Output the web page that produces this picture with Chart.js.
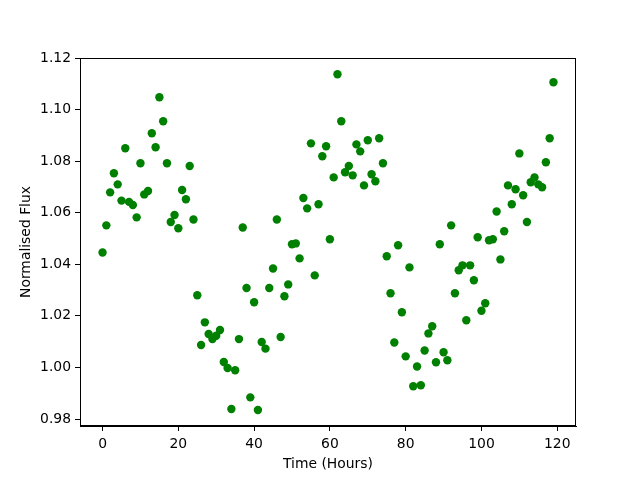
<!DOCTYPE html>
<html>
<head>
<meta charset="utf-8">
<script src="https://cdn.jsdelivr.net/npm/chart.js@4"></script>
<style>
  html, body { margin: 0; padding: 0; background: #fff; }
  #wrap { width: 640px; height: 480px; }
</style>
</head>
<body>
<div id="wrap"><canvas id="fluxChart" width="640" height="480"></canvas></div>
<script>
const hours = [
  0, 1, 2, 3, 4, 5, 6, 7, 8, 9, 10, 11, 12, 13, 14, 15, 16, 17, 18, 19,
  20, 21, 22, 23, 24, 25, 26, 27, 28, 29, 30, 31, 32, 33, 34, 35, 36, 37, 38, 39,
  40, 41, 42, 43, 44, 45, 46, 47, 48, 49, 50, 51, 52, 53, 54, 55, 56, 57, 58, 59,
  60, 61, 62, 63, 64, 65, 66, 67, 68, 69, 70, 71, 72, 73, 74, 75, 76, 77, 78, 79,
  80, 81, 82, 83, 84, 85, 86, 87, 88, 89, 90, 91, 92, 93, 94, 95, 96, 97, 98, 99,
  100, 101, 102, 103, 104, 105, 106, 107, 108, 109, 110, 111, 112, 113, 114, 115, 116, 117, 118, 119
];

const flux = [
  1.0446, 1.0551, 1.0679, 1.0753, 1.0710, 1.0647, 1.0850, 1.0642, 1.0630, 1.0582,
  1.0792, 1.0671, 1.0684, 1.0908, 1.0854, 1.1048, 1.0955, 1.0792, 1.0564, 1.0591,
  1.0540, 1.0688, 1.0652, 1.0781, 1.0574, 1.0280, 1.0087, 1.0175, 1.0130, 1.0110,
  1.0123, 1.0145, 1.0021, 0.9998, 0.9839, 0.9989, 1.0110, 1.0543, 1.0308, 0.9884,
  1.0253, 0.9835, 1.0099, 1.0073, 1.0308, 1.0384, 1.0574, 1.0118, 1.0276, 1.0322,
  1.0478, 1.0481, 1.0423, 1.0657, 1.0617, 1.0869, 1.0357, 1.0633, 1.0819, 1.0858,
  1.0497, 1.0737, 1.1137, 1.0955, 1.0757, 1.0781, 1.0745, 1.0865, 1.0838, 1.0706,
  1.0881, 1.0749, 1.0722, 1.0889, 1.0792, 1.0431, 1.0288, 1.0097, 1.0474, 1.0214,
  1.0043, 1.0388, 0.9927, 1.0004, 0.9931, 1.0066, 1.0132, 1.0160, 1.0020, 1.0478,
  1.0059, 1.0028, 1.0551, 1.0288, 1.0377, 1.0396, 1.0183, 1.0396, 1.0338, 1.0505,
  1.0220, 1.0249, 1.0493, 1.0497, 1.0605, 1.0419, 1.0528, 1.0706, 1.0633, 1.0691,
  1.0830, 1.0668, 1.0564, 1.0718, 1.0737, 1.0710, 1.0699, 1.0796, 1.0889, 1.1106
];

const xTicks = [0, 20, 40, 60, 80, 100, 120];
const yTicks = [0.98, 1.00, 1.02, 1.04, 1.06, 1.08, 1.10, 1.12];

const font = { family: "DejaVu Sans", size: 13.9 };

// matplotlib draws a full box round the axes
const frame = {
  id: "frame",
  afterDraw(chart) {
    const a = chart.chartArea;
    const ctx = chart.ctx;
    ctx.save();
    ctx.strokeStyle = "#000";
    ctx.lineWidth = 1;
    ctx.strokeRect(Math.round(a.left) + 0.5, Math.round(a.top) + 0.5,
      Math.round(a.right - a.left) - 1, Math.round(a.bottom - a.top) - 1);
    ctx.restore();
  }
};

new Chart(document.getElementById("fluxChart").getContext("2d"), {
  type: "scatter",
  data: {
    datasets: [{
      data: hours.map((h, i) => ({ x: h, y: flux[i] })),
      backgroundColor: "#008000",
      borderColor: "#008000",
      borderWidth: 0,
      pointRadius: 4.2,
      pointHoverRadius: 4.2
    }]
  },
  options: {
    responsive: false,
    animation: false,
    layout: { padding: { top: 58, right: 64, left: 0, bottom: 0 } },
    plugins: { legend: { display: false }, tooltip: { enabled: false } },
    scales: {
      x: {
        type: "linear",
        min: -5.95,
        max: 124.95,
        afterBuildTicks: s => { s.ticks = xTicks.map(v => ({ value: v })); },
        afterFit: s => { s.height = 54; },
        grid: { drawOnChartArea: false, drawTicks: true, tickLength: 5, color: "#000" },
        border: { display: true, color: "#000" },
        ticks: { color: "#000", font: font, padding: 5, maxRotation: 0 },
        title: { display: true, text: "Time (Hours)", color: "#000", font: font, padding: { top: 7, bottom: 7 } }
      },
      y: {
        type: "linear",
        min: 0.9773,
        max: 1.12,
        afterBuildTicks: s => { s.ticks = yTicks.map(v => ({ value: v })); },
        afterFit: s => { s.width = 80; },
        grid: { drawOnChartArea: false, drawTicks: true, tickLength: 5, color: "#000" },
        border: { display: true, color: "#000" },
        ticks: { color: "#000", font: font, padding: 4, callback: v => v.toFixed(2) },
        title: { display: true, text: "Normalised Flux", color: "#000", font: font, padding: { top: 18, bottom: 18 } }
      }
    }
  },
  plugins: [frame]
});
</script>
</body>
</html>
